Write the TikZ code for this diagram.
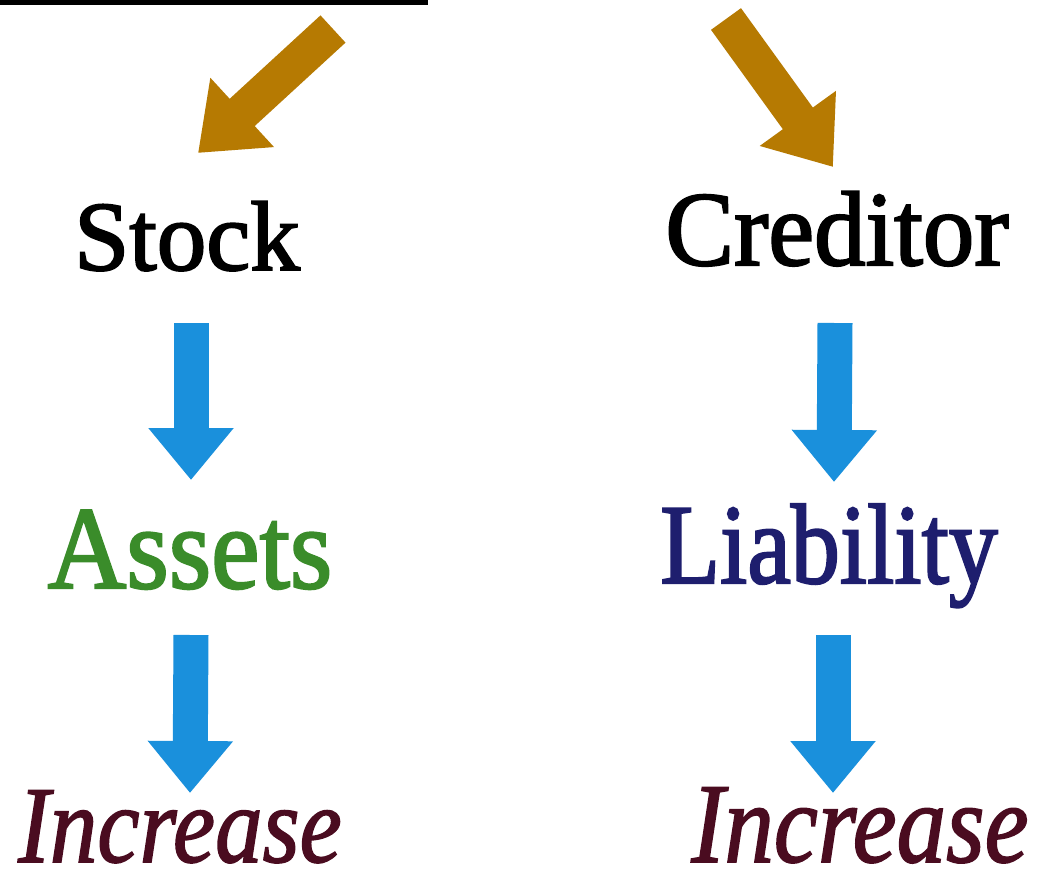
\documentclass[tikz,border=0pt]{standalone}
\usepackage{fontspec}
\setmainfont{Liberation Serif}
\newfontfamily\wordfont[FakeBold=2]{Liberation Serif}
\newfontfamily\handfont[FakeBold=1.5]{Liberation Serif Italic}
\usetikzlibrary{arrows.meta,calc}

\definecolor{ochre}{RGB}{182,122,2}
\definecolor{skyblue}{RGB}{26,144,220}
\definecolor{assetgreen}{RGB}{58,140,42}
\definecolor{navy}{RGB}{30,30,110}
\definecolor{wine}{RGB}{74,12,32}

\tikzset{
  word/.style={inner sep=0pt, anchor=base, font=\wordfont},
  growth/.style={inner sep=0pt, anchor=base, font=\handfont, text=wine},
  downarrow/.style={draw=skyblue, line width=35pt,
    -{Triangle[width=82pt,length=52pt]}},
  flowarrow/.style={draw=ochre, line width=37pt,
    -{Triangle[width=90pt,length=60pt]}},
}

\begin{document}
\begin{tikzpicture}[x=1pt,y=-1pt]
\useasboundingbox (0,0) rectangle (1042,876);
\fill[white] (0,0) rectangle (1042,876);

% underline of the heading above
\fill[black] (0,0) rectangle (428,5);
\coordinate (srcL) at (333,29);
\coordinate (srcR) at (726,19);

% words
\node[word] (stock) at (187,270)
  {\fontsize{99}{110}\selectfont Stock};
\node[word] (creditor) at (837,265)
  {\fontsize{103}{115}\selectfont\scalebox{1}[1.03]{Creditor}};
\node[word, text=assetgreen] (assets) at (190,588)
  {\fontsize{109}{120}\selectfont\scalebox{1}[1.08]{Assets}};
\node[word, text=navy] (liability) at (829,583)
  {\fontsize{98}{110}\selectfont\scalebox{1}[1.16]{Liability}};
\node[growth] (incL) at (180,862)
  {\fontsize{95}{110}\selectfont\scalebox{1}[1.15]{Increase}};
\node[growth] (incR) at (860,862)
  {\fontsize{99}{110}\selectfont\scalebox{1}[1.15]{Increase}};

% arrows from the heading
\draw[flowarrow] (srcL) -- ($(stock.base)+(11,-117)$);
\draw[flowarrow] (srcR) -- ($(creditor.base)+(-4,-98)$);

% downward arrows
\draw[downarrow] ($(stock.base)+(4,53)$) -- ($(assets.base)+(1,-108)$);
\draw[downarrow] ($(creditor.base)+(-2,58)$) -- ($(liability.base)+(5,-101)$);
\draw[downarrow] ($(assets.base)+(1,47)$) -- ($(incL.base)+(10,-69)$);
\draw[downarrow] ($(liability.base)+(4,52)$) -- ($(incR.base)+(-27,-69)$);
\end{tikzpicture}
\end{document}
